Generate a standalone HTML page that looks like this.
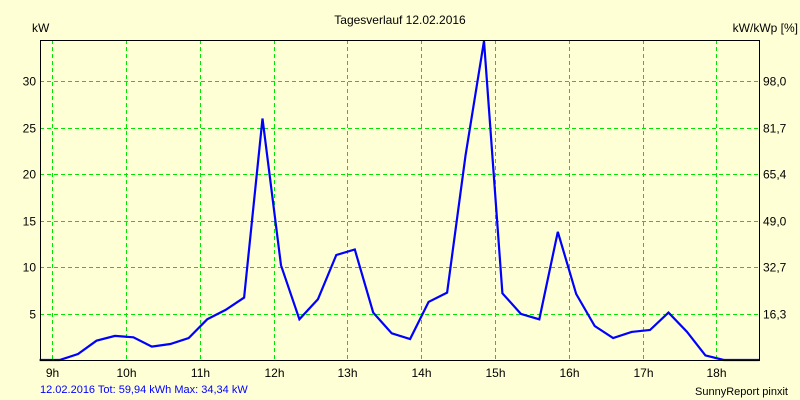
<!DOCTYPE html>
<html><head><meta charset="utf-8"><style>
html,body{margin:0;padding:0;background:#ffffd6;}
svg{display:block;font-family:"Liberation Sans",sans-serif;}
</style></head><body>
<svg id="chart" width="800" height="400" xmlns="http://www.w3.org/2000/svg">
<rect x="0" y="0" width="800" height="400" fill="#ffffd6"/>
<text x="400" y="24" font-size="12" text-anchor="middle" fill="#000">Tagesverlauf 12.02.2016</text>
<text x="32" y="32" font-size="12" fill="#000">kW</text>
<text x="798" y="32" font-size="12" text-anchor="end" fill="#000">kW/kWp [%]</text>
<g id="grid"></g>
<g id="series"></g>
<rect x="40.5" y="40.5" width="719" height="320" fill="none" stroke="#000" stroke-width="1"/>
<g id="labels"></g>
<text x="40" y="393" font-size="11" fill="#0000ff">12.02.2016 Tot: 59,94 kWh Max: 34,34 kW</text>
<text x="788" y="395" font-size="11" text-anchor="end" fill="#000">SunnyReport pinxit</text>
</svg>
<script>
const hourTicks = [9,10,11,12,13,14,15,16,17,18];
const kwTicks = [5,10,15,20,25,30];
const pctLabels = ["16,3","32,7","49,0","65,4","81,7","98,0"];
const times = [8.83,9.1,9.35,9.6,9.85,10.1,10.35,10.6,10.85,11.1,11.35,11.6,11.85,12.1,12.35,12.6,12.85,13.1,13.35,13.6,13.85,14.1,14.35,14.6,14.85,15.1,15.35,15.6,15.85,16.1,16.35,16.6,16.85,17.1,17.35,17.6,17.85,18.1,18.58];
const power = [0,0,0.65,2.08,2.59,2.44,1.44,1.72,2.37,4.38,5.39,6.72,26.0,10.2,4.38,6.54,11.3,11.9,5.1,2.87,2.26,6.25,7.26,22.0,34.34,7.18,4.96,4.38,13.8,7.11,3.66,2.37,3.02,3.23,5.1,3.05,0.5,0,0];

const NS = "http://www.w3.org/2000/svg";
const X0 = 40, X1 = 760, Y0 = 360, Y1 = 40;
const T0 = 8.835, T1 = 18.59, V0 = 0, V1 = 34.45;
const xs = t => X0 + (t - T0) / (T1 - T0) * (X1 - X0);
const ys = v => Y0 - (v - V0) / (V1 - V0) * (Y0 - Y1);
function mk(tag, attrs, parent) {
  const e = document.createElementNS(NS, tag);
  for (const k in attrs) e.setAttribute(k, attrs[k]);
  parent.appendChild(e);
  return e;
}
const grid = document.getElementById('grid');
const labels = document.getElementById('labels');
const series = document.getElementById('series');
hourTicks.forEach(h => {
  const x = Math.round(xs(h)) + 0.5;
  const l = mk('line', {x1:x, x2:x, y1:Y1, y2:Y0, stroke:'#00e600', 'stroke-dasharray':'4,3', 'stroke-width':1}, grid);
  
  
  const t = mk('text', {x:x, y:377, 'font-size':12, 'text-anchor':'middle', fill:'#000'}, labels);
  t.textContent = h + 'h';
  
  
});
kwTicks.forEach((v, i) => {
  const y = Math.round(ys(v)) + 0.5;
  const l = mk('line', {x1:X0, x2:X1, y1:y, y2:y, stroke:'#00e600', 'stroke-dasharray':'4,3', 'stroke-width':1}, grid);
  
  
  const t = mk('text', {x:36, y:y + 4, 'font-size':12, 'text-anchor':'end', fill:'#000'}, labels);
  t.textContent = v;
  
  
  const t2 = mk('text', {x:763, y:y + 4, 'font-size':12, fill:'#000'}, labels);
  t2.textContent = pctLabels[i];
  
  
});
const pts = times.map((t, i) => xs(t).toFixed(1) + ',' + ys(power[i]).toFixed(1)).join(' ');
const pl = mk('polyline', {points:pts, fill:'none', stroke:'#0000ff', 'stroke-width':2.2, 'stroke-linejoin':'miter'}, series);


</script>
</body></html>
